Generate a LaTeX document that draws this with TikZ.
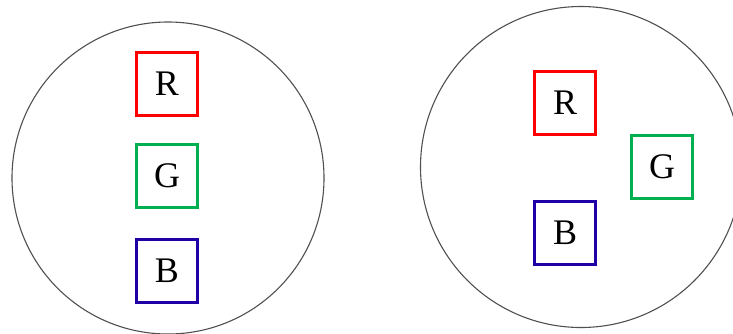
\documentclass[tikz,border=0pt]{standalone}
\usepackage{fontspec}
\setmainfont{Liberation Serif}
\usetikzlibrary{positioning}
\definecolor{BoxRed}{RGB}{255,0,0}
\definecolor{BoxGreen}{RGB}{0,176,80}
\definecolor{BoxBlue}{RGB}{32,0,166}
\definecolor{RimGray}{RGB}{80,80,80}

\begin{document}
\begin{tikzpicture}[x=1pt,y=-1pt,
  chan/.style={draw,line width=3.4pt,minimum width=61pt,minimum height=63pt,inner sep=0pt,font=\fontsize{36}{40}\selectfont},
  rim/.style={draw=RimGray,line width=1.1pt,circle,inner sep=0pt}]
\useasboundingbox (0,0) rectangle (733,333);
\node[rim,minimum size=312pt] (left) at (168,178) {};
\node[rim,minimum size=321pt] (right) at (581,167) {};
% stacked
\node[chan,BoxRed,text=black] (rL) at (167,84) {R};
\node[chan,BoxGreen,text=black] (gL) at (167,176) {G};
\node[chan,BoxBlue,text=black] (bL) at (167,271) {B};
% triangle
\node[chan,BoxRed,text=black] (rR) at (565,103) {R};
\node[chan,BoxGreen,text=black] (gR) at (662,167) {G};
\node[chan,BoxBlue,text=black] (bR) at (565,233) {B};
\end{tikzpicture}
\end{document}
